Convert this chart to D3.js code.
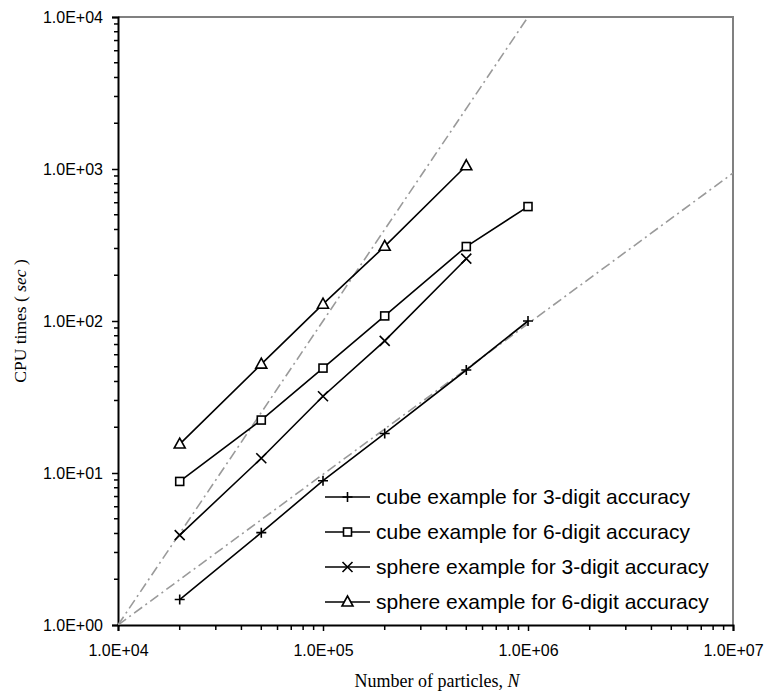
<!DOCTYPE html>
<html>
<head>
<meta charset="utf-8">
<script src="https://cdn.jsdelivr.net/npm/d3@7"></script>
<style>
  html, body { margin: 0; padding: 0; background: #fff; }
  svg { display: block; }
</style>
</head>
<body>
<svg id="chart" width="767" height="693"></svg>
<script>
// ---- data ----
const particles = [2e4, 5e4, 1e5, 2e5, 5e5, 1e6];
const cube3 = [1.47, 4.05, 8.9, 18.2, 47.6, 100];
const cube6 = [8.8, 22.3, 49, 108, 309, 566];
const sphere3 = [3.9, 12.5, 32, 74, 257];
const sphere6 = [15.5, 52, 129, 310, 1050];
const refLinearN = [1e4, 1e7];
const refLinearT = [1, 940];
const refQuadN = [1e4, 1e6];
const refQuadT = [1, 1e4];
const xTickValues = [1e4, 1e5, 1e6, 1e7];
const xTickLabels = ["1.0E+04", "1.0E+05", "1.0E+06", "1.0E+07"];
const yTickValues = [1, 10, 100, 1000, 10000];
const yTickLabels = ["1.0E+00", "1.0E+01", "1.0E+02", "1.0E+03", "1.0E+04"];
const seriesNames = [
  "cube example for 3-digit accuracy",
  "cube example for 6-digit accuracy",
  "sphere example for 3-digit accuracy",
  "sphere example for 6-digit accuracy"
];
const seriesMarkers = ["plus", "square", "cross", "triangle"];
const seriesValues = [cube3, cube6, sphere3, sphere6];

// ---- layout ----
const svg = d3.select("#chart");
const L = 118, R = 733, T = 17, B = 625;
const x = d3.scaleLog().domain([1e4, 1e7]).range([L, R]);
const y = d3.scaleLog().domain([1, 1e4]).range([B, T]);

svg.append("defs").append("clipPath").attr("id", "plotclip")
  .append("rect").attr("x", L).attr("y", T).attr("width", R - L).attr("height", B - T);

// frame top & right (gray)
svg.append("path")
  .attr("d", `M${L},${T}H${R}V${B}`)
  .attr("fill", "none").attr("stroke", "#808080").attr("stroke-width", 2);

// minor ticks
const minorX = [];
for (let d = 1e4; d < 1e7; d *= 10) for (let k = 2; k <= 9; k++) minorX.push(d * k);
const minorY = [];
for (let d = 1; d < 1e4; d *= 10) for (let k = 2; k <= 9; k++) minorY.push(d * k);

const xAxis = d3.axisBottom(x).tickValues(xTickValues)
  .tickFormat((d, i) => xTickLabels[i]).tickSize(6).tickPadding(14);
const gx = svg.append("g").attr("transform", `translate(0,${B})`).call(xAxis);
gx.select(".domain").attr("stroke", "#000").attr("stroke-width", 2);
gx.selectAll(".tick line").attr("stroke", "#000").attr("stroke-width", 1.5);
gx.selectAll(".tick text").attr("font-family", "Liberation Sans, Arial, sans-serif")
  .attr("font-size", 16).attr("fill", "#000");
svg.append("g").selectAll("line").data(minorX).join("line")
  .attr("x1", d => x(d)).attr("x2", d => x(d))
  .attr("y1", B).attr("y2", B + 5)
  .attr("stroke", "#000").attr("stroke-width", 1.5);

const yAxis = d3.axisLeft(y).tickValues(yTickValues)
  .tickFormat((d, i) => yTickLabels[i]).tickSize(6).tickPadding(9);
const gy = svg.append("g").attr("transform", `translate(${L},0)`).call(yAxis);
gy.select(".domain").attr("stroke", "#000").attr("stroke-width", 2);
gy.selectAll(".tick line").attr("stroke", "#000").attr("stroke-width", 1.5);
gy.selectAll(".tick text").attr("font-family", "Liberation Sans, Arial, sans-serif")
  .attr("font-size", 16).attr("fill", "#000");
svg.append("g").selectAll("line").data(minorY).join("line")
  .attr("x1", L - 4).attr("x2", L)
  .attr("y1", d => y(d)).attr("y2", d => y(d))
  .attr("stroke", "#000").attr("stroke-width", 1.5);

// reference lines
const line = d3.line().x(d => x(d[0])).y(d => y(d[1]));
const plot = svg.append("g").attr("clip-path", "url(#plotclip)");
[[refLinearN, refLinearT], [refQuadN, refQuadT]].forEach(([ns, ts]) => {
  plot.append("path")
    .datum(ns.map((n, i) => [n, ts[i]]))
    .attr("d", line)
    .attr("fill", "none").attr("stroke", "#9a9a9a").attr("stroke-width", 1.6)
    .attr("stroke-dasharray", "10,4,2,4");
});

// marker drawer
function drawMarker(g, type, cx, cy) {
  const s = "#000", w = 1.6;
  if (type === "plus") {
    g.append("path").attr("d", `M${cx - 5},${cy}H${cx + 5}M${cx},${cy - 5}V${cy + 5}`)
      .attr("stroke", s).attr("stroke-width", w).attr("fill", "none");
  } else if (type === "square") {
    g.append("rect").attr("x", cx - 4).attr("y", cy - 4).attr("width", 8).attr("height", 8)
      .attr("stroke", s).attr("stroke-width", w).attr("fill", "#fff");
  } else if (type === "cross") {
    g.append("path").attr("d", `M${cx - 5},${cy - 5}L${cx + 5},${cy + 5}M${cx - 5},${cy + 5}L${cx + 5},${cy - 5}`)
      .attr("stroke", s).attr("stroke-width", w).attr("fill", "none");
  } else if (type === "triangle") {
    g.append("path").attr("d", `M${cx},${cy - 6}L${cx + 5.5},${cy + 4}L${cx - 5.5},${cy + 4}Z`)
      .attr("stroke", s).attr("stroke-width", w).attr("fill", "#fff");
  }
}

// series
seriesValues.forEach((vals, si) => {
  const pts = vals.map((v, i) => [particles[i], v]);
  plot.append("path").datum(pts).attr("d", line)
    .attr("fill", "none").attr("stroke", "#000").attr("stroke-width", 1.6);
  const g = svg.append("g");
  pts.forEach(p => drawMarker(g, seriesMarkers[si], x(p[0]), y(p[1])));
});

// legend
const legX0 = 325, legX1 = 370, legY0 = 497, legDy = 35;
seriesNames.forEach((name, i) => {
  const g = svg.append("g");
  const yy = legY0 + i * legDy;
  g.append("line").attr("x1", legX0).attr("x2", legX1).attr("y1", yy).attr("y2", yy)
    .attr("stroke", "#000").attr("stroke-width", 1.6);
  drawMarker(g, seriesMarkers[i], (legX0 + legX1) / 2, yy);
  g.append("text").attr("x", 376).attr("y", yy).attr("dy", "0.35em")
    .attr("font-family", "Liberation Sans, Arial, sans-serif").attr("font-size", 21)
    .attr("fill", "#000").text(name);
});

// axis titles
const xt = svg.append("text").attr("x", 437).attr("y", 687).attr("text-anchor", "middle")
  .attr("font-family", "Liberation Serif, Times New Roman, serif").attr("font-size", 18).attr("fill", "#000");
xt.append("tspan").text("Number of particles, ");
xt.append("tspan").attr("font-style", "italic").text("N");

const yt = svg.append("text").attr("transform", `translate(26,321) rotate(-90)`).attr("text-anchor", "middle")
  .attr("font-family", "Liberation Serif, Times New Roman, serif").attr("font-size", 17.5).attr("fill", "#000");
yt.append("tspan").text("CPU times ( ");
yt.append("tspan").attr("font-style", "italic").text("sec");
yt.append("tspan").text(" )");
</script>
</body>
</html>
